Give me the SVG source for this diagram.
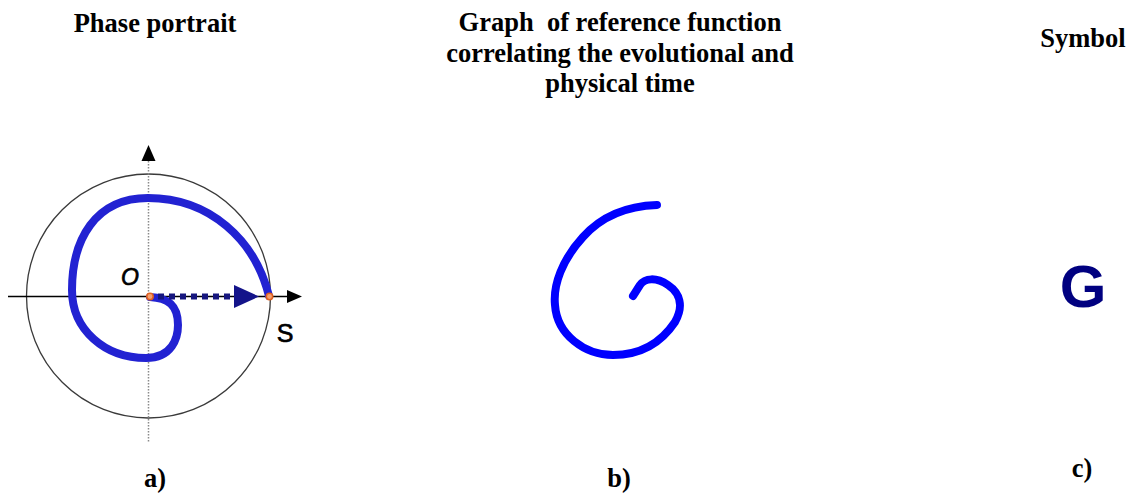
<svg xmlns="http://www.w3.org/2000/svg" width="1129" height="495" viewBox="0 0 1129 495">
<style>
.t{font-family:"Liberation Serif","Times New Roman",serif;font-weight:bold;font-size:26.5px;fill:#000;text-anchor:middle}
.lbl{font-family:"Liberation Sans",Arial,sans-serif;fill:#000;stroke:#000;stroke-width:0.7;text-anchor:middle}
.dot{fill:#f4a070;stroke:#e0601e;stroke-width:1.5}
</style>
<rect width="1129" height="495" fill="#fff"/>
<g id="titles">
<text class="t" x="155" y="32">Phase portrait</text>
<text class="t" x="620" y="31" xml:space="preserve">Graph  of reference function</text>
<text class="t" x="620" y="62">correlating the evolutional and</text>
<text class="t" x="620" y="92">physical time</text>
<text class="t" x="1083" y="47">Symbol</text>
</g>
<g id="phase-portrait">
<circle cx="148.5" cy="296" r="122" fill="none" stroke="#3a3a3a" stroke-width="1.3"/>
<line x1="148.5" y1="158" x2="148.5" y2="443" stroke="#8a8a8a" stroke-width="1.5" stroke-dasharray="1.5 1.5"/>
<polygon points="148.5,145 141.5,161 155.5,161" fill="#000"/>
<line x1="8" y1="296.5" x2="290" y2="296.5" stroke="#000" stroke-width="1.3"/>
<polygon points="302,296.5 287,290 287,303" fill="#000"/>
<path d="M 269,296 C 255,240 210,198 148,198 C 95,198 72,240 72,290 C 72,330 105,358 146,358 C 172,358 178,338 178,325 C 178,305 168,298 150,297" fill="none" stroke="#2222d2" stroke-width="8" stroke-linecap="round"/>
<line x1="158" y1="296.5" x2="236" y2="296.5" stroke="#16167e" stroke-width="6" stroke-dasharray="6 5"/>
<polygon points="259,296.5 234,285 234,308" fill="#14148a"/>
<circle class="dot" cx="150" cy="296.5" r="3.2"/>
<circle class="dot" cx="269.5" cy="296.5" r="3.2"/>
<text class="lbl" x="130" y="285" font-size="23" font-style="italic">O</text>
<text class="lbl" x="285" y="342" font-size="25">S</text>
</g>
<g id="reference-graph">
<path d="M 657,205 C 625,206 600,218 583,237 C 562,260 553,285 555,305 C 557,335 585,355 613,355 C 645,355 663,340 675,322 C 684,306 680,293 668,285 C 656,277 645,278 640,285 L 633,296" fill="none" stroke="#0000ff" stroke-width="8" stroke-linecap="round" stroke-linejoin="round"/>
</g>
<g id="symbol">
<text x="1083" y="307" font-family="Liberation Sans,Arial,sans-serif" font-weight="bold" font-size="60" fill="#000080" text-anchor="middle">G</text>
</g>
<g id="captions">
<text class="t" x="155" y="487">a)</text>
<text class="t" x="619" y="487">b)</text>
<text class="t" x="1082" y="477">c)</text>
</g>
</svg>
